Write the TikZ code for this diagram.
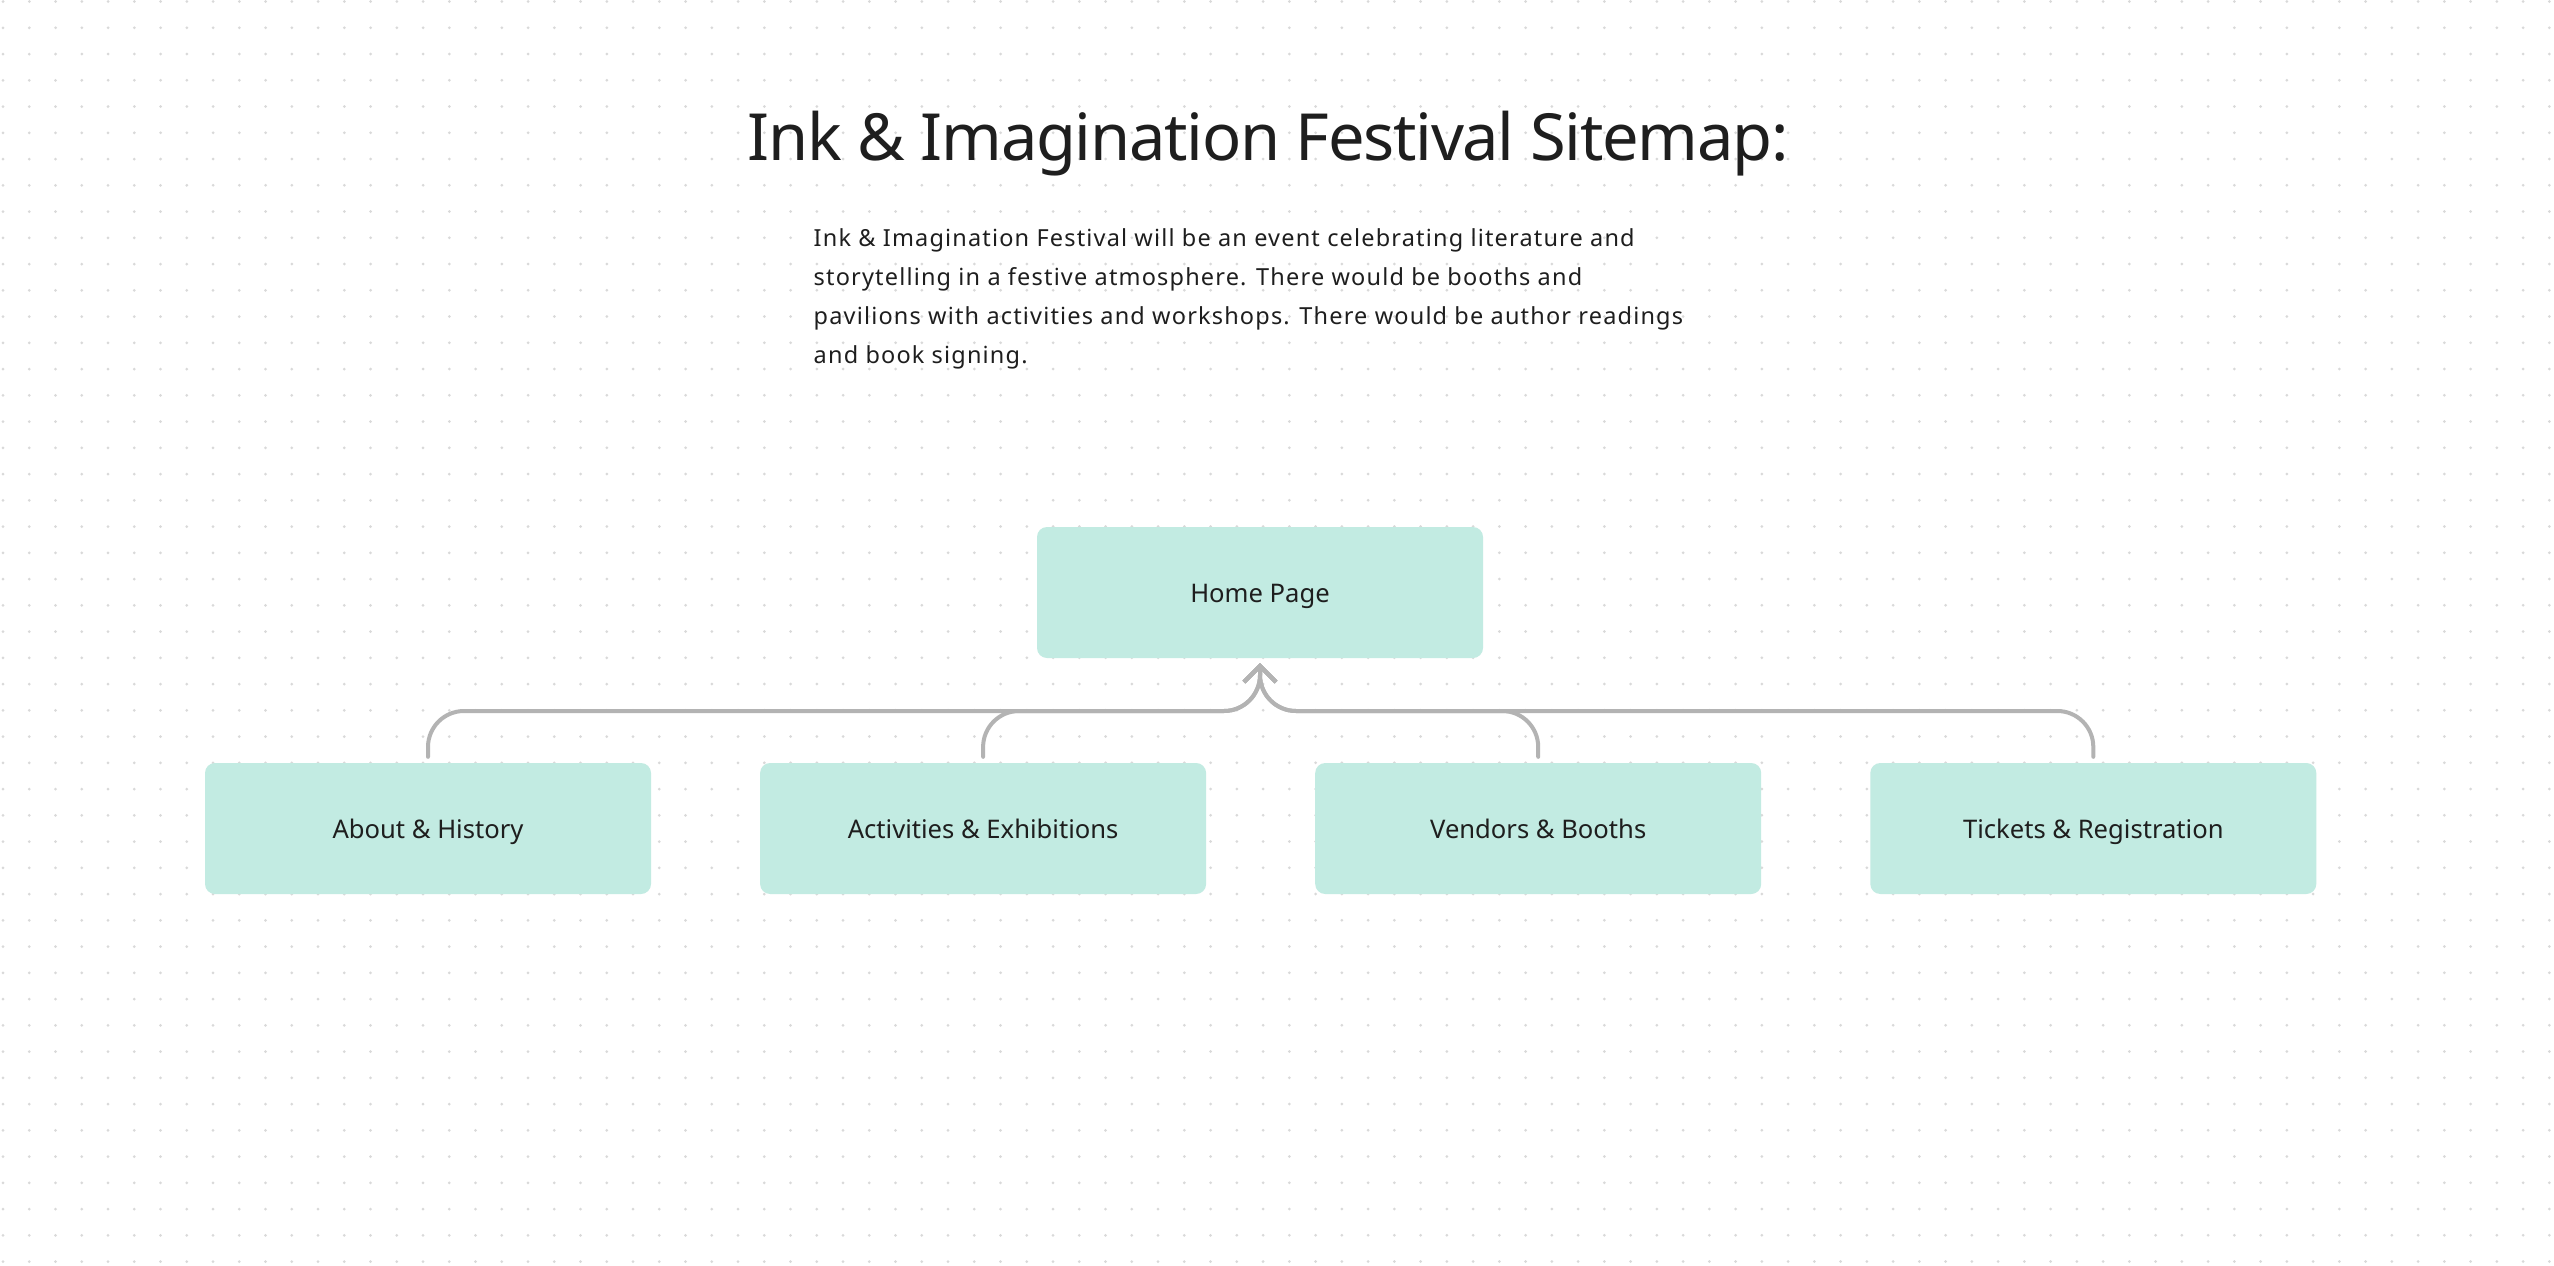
\documentclass[tikz,border=0pt]{standalone}
\usepackage{fontspec}
\setmainfont{Noto Sans}
\newfontfamily\titlefont[LetterSpace=-2]{Noto Sans}
\newfontfamily\introfont[LetterSpace=5]{Noto Sans}
\usetikzlibrary{positioning}
\usetikzlibrary{arrows.meta}
\definecolor{pagefill}{HTML}{C2EBE2}
\definecolor{linkgray}{HTML}{B3B3B3}
\definecolor{dotgray}{HTML}{D9D9D9}
\definecolor{inkdark}{HTML}{1E1E1E}

\begin{document}
\begin{tikzpicture}[x=1pt, y=-1pt,
        page/.style={rectangle, rounded corners=10pt, fill=pagefill, text=inkdark,
            minimum width=446pt, minimum height=131pt, inner sep=0pt,
            text height=19.6pt, text depth=0pt,
            font=\fontsize{25.6}{30}\selectfont},
        link/.style={draw=linkgray, line width=4pt, line cap=round, rounded corners=36pt,
            -{Straight Barb[length=16pt, width=32pt]}},
        node distance=108.7pt]
    \fill[white] (0,0) rectangle (2554,1266);
    \useasboundingbox (0,0) rectangle (2554,1266);
    \foreach \i in {0,...,97}
        \foreach \j in {0,...,48}
            \fill[dotgray] (3+26.25*\i, 1.5+26.25*\j) circle (1.5pt);

    \node[anchor=base, text=inkdark, font=\titlefont\fontsize{65}{70}\selectfont] (title)
        at (1268,160.7) {Ink \& Imagination Festival Sitemap:};
    \node[anchor=base west, align=left, inner sep=0pt, text=inkdark,
        font=\introfont\fontsize{23.5}{39.2}\selectfont] (intro) at (813.5,363.6)
        {Ink \& Imagination Festival will be an event celebrating literature and\\
         storytelling in a festive atmosphere. There would be booths and\\
         pavilions with activities and workshops. There would be author readings\\
         and book signing.};

    \node[page] (home) at (1260,592.5) {Home Page};
    \node[page] (about) at (428,828.5) {About \& History};
    \node[page, right=of about] (activities) {Activities \& Exhibitions};
    \node[page, right=of activities] (vendors) {Vendors \& Booths};
    \node[page, right=of vendors] (tickets) {Tickets \& Registration};

    \coordinate (bus) at (1260,711);
    \foreach \child in {about, activities, vendors, tickets}
        \draw[link] ([yshift=6pt]\child.north) -- (\child.north |- bus) -- (bus)
            -- ([yshift=-5pt]home.south);
\end{tikzpicture}
\end{document}
